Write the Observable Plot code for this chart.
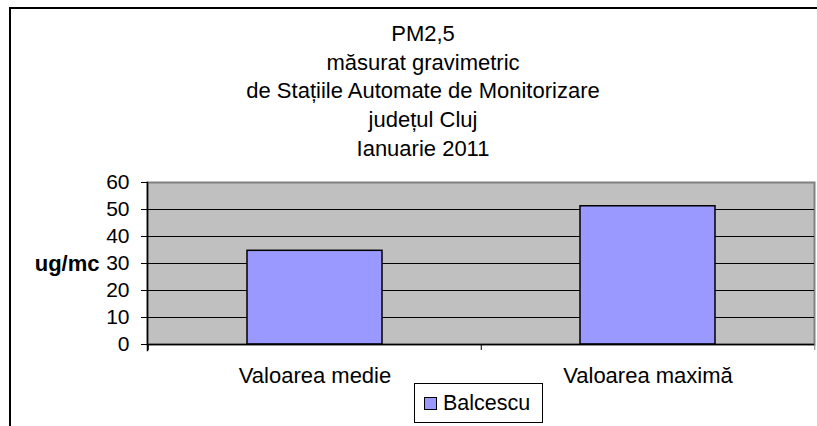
<!DOCTYPE html>
<html>
<head>
<meta charset="utf-8">
<script src="https://cdn.jsdelivr.net/npm/d3@7"></script>
<script src="https://cdn.jsdelivr.net/npm/@observablehq/plot@0.6"></script>
<style>
  html, body { margin: 0; padding: 0; background: #fff; }
  #wrap { position: relative; width: 817px; height: 426px; overflow: hidden; font-family: "Liberation Sans", Arial, sans-serif; }
  #border { position: absolute; left: 9px; top: 7px; width: 2000px; height: 2000px; border: 2px solid #000; box-sizing: border-box; }
  #title { position: absolute; left: 0; top: 20px; width: 846px; text-align: center; font-size: 22px; line-height: 28.7px; color: #000; }
  #chart { position: absolute; left: 0; top: 0; }
  #legend { position: absolute; left: 414px; top: 383px; width: 129px; height: 40px; box-sizing: border-box; border: 1px solid #000; background: #fff; }
  #legend .sw { position: absolute; left: 9px; top: 13px; width: 13px; height: 13px; box-sizing: border-box; border: 1px solid #000; }
  #legend .lb { position: absolute; left: 28px; top: 8px; font-size: 21.5px; line-height: 22px; white-space: nowrap; }
</style>
</head>
<body>
<div id="wrap">
  <div id="border"></div>
  <div id="title"></div>
  <div id="chart"></div>
  <div id="legend"><div class="sw"></div><div class="lb"></div></div>
</div>
<script>
const titleLines = ["PM2,5", "măsurat gravimetric", "de Stațiile Automate de Monitorizare", "județul Cluj", "Ianuarie 2011"];
const categories = ["Valoarea medie", "Valoarea maximă"];
const values = [34.7, 51.2];
const seriesName = "Balcescu";
const yTicks = [0, 10, 20, 30, 40, 50, 60];
const yLabel = "ug/mc";
const barColor = "#9999FF";

document.getElementById("title").innerHTML = titleLines.join("<br>");
document.querySelector("#legend .sw").style.background = barColor;
document.querySelector("#legend .lb").textContent = seriesName;

const width = 817, height = 426;
const mL = 147, mR = 3, mT = 182, mB = 82;
const step = (width - mL - mR) / categories.length;

const plot = Plot.plot({
  width, height,
  marginLeft: mL, marginRight: mR, marginTop: mT, marginBottom: mB,
  style: { fontFamily: "'Liberation Sans', Arial, sans-serif", background: "transparent", color: "#000" },
  x: { domain: categories, paddingInner: 0.595, paddingOuter: 0.2975 },
  y: { domain: [0, 60] },
  marks: [
    Plot.frame({ fill: "#C0C0C0", stroke: "#808080", strokeWidth: 2 }),
    Plot.ruleY(yTicks.slice(1, -1), { stroke: "#000", strokeWidth: 1 }),
    Plot.barY(values, { x: categories, y: values, fill: barColor, stroke: "#000", strokeWidth: 1.5 }),
    Plot.ruleY([0], { stroke: "#000", strokeWidth: 1.5 }),
    Plot.frame({ anchor: "left", stroke: "#000", strokeWidth: 1.5, insetBottom: -6 }),
    Plot.axisY({ ticks: yTicks, tickSize: 6, tickPadding: 12, fontSize: 21, label: null, stroke: "#000" }),
    Plot.axisX({ tickSize: 6, text: null, dx: -step / 2, label: null, stroke: "#000" }),
    Plot.axisX({ ticks: categories.slice(-1), tickSize: 6, text: null, dx: step / 2, label: null, stroke: "#808080" }),
    Plot.axisX({ tickSize: 0, tickPadding: 23, fontSize: 22, label: null }),
    Plot.text([yLabel], { text: d => d, frameAnchor: "left", dx: -48, textAnchor: "end", fontSize: 22, fontWeight: "bold" })
  ]
});
document.getElementById("chart").appendChild(plot);
</script>
</body>
</html>
